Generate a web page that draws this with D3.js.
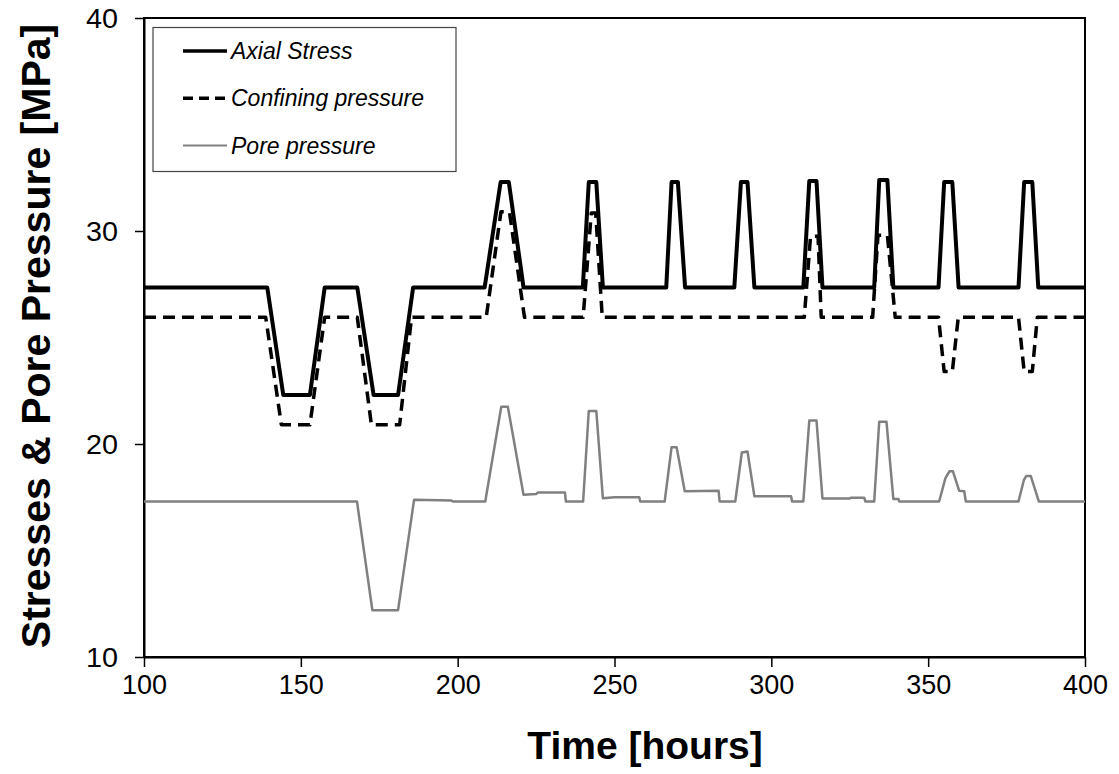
<!DOCTYPE html>
<html lang="en">
<head>
    <meta charset="UTF-8">
    <title>Stresses & Pore Pressure</title>
    <script src="https://d3js.org/d3.v7.min.js"></script>
    <style>
        body { margin: 0; background: #fff; }
        svg text { font-family: "Liberation Sans", Arial, sans-serif; fill: #000; }
    </style>
</head>
<body>
    <div id="chart"></div>
    <script>
        // Data: [hours, MPa] breakpoints of each record
        const axialStress = [
            [100, 27.35], [139.3, 27.35], [144.4, 22.3], [152.9, 22.3], [157.6, 27.35],
            [168.0, 27.35], [173.2, 22.3], [181.0, 22.3], [185.8, 27.35],
            [208.6, 27.35], [213.7, 32.3], [216.3, 32.3], [221.0, 27.35],
            [239.9, 27.35], [241.8, 32.3], [244.2, 32.3], [246.3, 27.35],
            [266.5, 27.35], [268.2, 32.3], [270.2, 32.3], [272.5, 27.35],
            [288.2, 27.35], [290.3, 32.3], [292.4, 32.3], [294.6, 27.35],
            [310.2, 27.35], [312.1, 32.35], [314.4, 32.35], [316.3, 27.35],
            [332.8, 27.35], [334.4, 32.4], [337.0, 32.4], [338.9, 27.35],
            [353.3, 27.35], [355.1, 32.3], [357.7, 32.3], [359.7, 27.35],
            [378.8, 27.35], [380.6, 32.3], [383.2, 32.3], [385.1, 27.35],
            [400, 27.35]
        ];
        const confiningPressure = [
            [100, 25.95], [138.8, 25.95], [143.8, 20.9], [152.9, 20.9], [157.6, 25.95],
            [168.0, 25.95], [172.5, 20.9], [181.5, 20.9], [185.3, 25.95],
            [209.1, 25.95], [213.8, 30.9], [216.5, 30.9], [221.3, 25.95],
            [240.0, 25.95], [242.6, 30.85], [244.0, 30.85], [246.1, 25.95],
            [310.5, 25.95], [312.5, 29.75], [314.9, 29.75], [315.9, 25.95],
            [332.3, 25.95], [334.0, 29.8], [337.0, 29.8], [339.5, 25.95],
            [353.3, 25.95], [355.1, 23.4], [357.7, 23.4], [359.6, 25.95],
            [378.8, 25.95], [380.6, 23.4], [383.2, 23.4], [384.8, 25.95],
            [400, 25.95]
        ];
        const porePressure = [
            [100, 17.3], [167.9, 17.3], [172.8, 12.2], [181.0, 12.2], [186.1, 17.38],
            [198.0, 17.35], [198.5, 17.3], [208.8, 17.3], [213.9, 21.75], [216.0, 21.75],
            [221.0, 17.62], [225.0, 17.65], [225.5, 17.72], [234.2, 17.72], [234.5, 17.3],
            [240.0, 17.3], [241.8, 21.55], [244.2, 21.55], [246.3, 17.45], [250.0, 17.5],
            [257.9, 17.5], [258.2, 17.3], [266.0, 17.3], [268.2, 19.85], [269.8, 19.85],
            [272.4, 17.78], [283.2, 17.8], [283.5, 17.3], [288.5, 17.3], [290.6, 19.6],
            [292.4, 19.65], [294.6, 17.55], [306.3, 17.55], [306.6, 17.3], [310.2, 17.3],
            [312.1, 21.1], [314.4, 21.1], [316.3, 17.44], [325.0, 17.44], [325.3, 17.48],
            [329.6, 17.48], [330.0, 17.3], [332.8, 17.3], [334.4, 21.05], [336.7, 21.05],
            [338.9, 17.42], [340.5, 17.42], [340.8, 17.3], [353.5, 17.3], [355.5, 18.4],
            [356.8, 18.72], [357.9, 18.72], [359.9, 17.8], [361.5, 17.78], [362.0, 17.3],
            [378.8, 17.3], [380.5, 18.3], [381.3, 18.5], [382.7, 18.5], [385.3, 17.3],
            [400, 17.3]
        ];
        const xTicks = [100, 150, 200, 250, 300, 350, 400];
        const yTicks = [10, 20, 30, 40];
        const seriesNames = ["Axial Stress", "Confining pressure", "Pore pressure"];

        const width = 1119;
        const height = 774;
        const margin = { top: 18, right: 34, bottom: 117, left: 144 };

        const svg = d3.select("#chart")
            .append("svg")
            .attr("width", width)
            .attr("height", height);

        const x = d3.scaleLinear()
            .domain([100, 400])
            .range([margin.left, width - margin.right]);

        const y = d3.scaleLinear()
            .domain([10, 40])
            .range([height - margin.bottom, margin.top]);

        // Frame
        svg.append("rect")
            .attr("x", x(100))
            .attr("y", y(40))
            .attr("width", x(400) - x(100))
            .attr("height", y(10) - y(40))
            .attr("fill", "none")
            .attr("stroke", "#000")
            .attr("stroke-width", 2);

        // Axes
        const xAxis = svg.append("g")
            .attr("transform", `translate(0,${y(10)})`)
            .call(d3.axisBottom(x).tickValues(xTicks).tickSize(10).tickPadding(8).tickSizeOuter(0));
        const yAxis = svg.append("g")
            .attr("transform", `translate(${x(100)},0)`)
            .call(d3.axisLeft(y).tickValues(yTicks).tickSize(9).tickPadding(17).tickSizeOuter(0));

        [xAxis, yAxis].forEach(g => {
            g.select(".domain").attr("stroke", "#000").attr("stroke-width", 2);
            g.selectAll(".tick line").attr("stroke", "#000").attr("stroke-width", 1.5);
            g.selectAll(".tick text")
                .style("font-family", '"Liberation Sans", Arial, sans-serif')
                .style("font-size", "27px")
                .attr("fill", "#000");
        });
        yAxis.selectAll(".tick text").attr("dy", "0.35em").attr("textLength", 32).attr("lengthAdjust", "spacingAndGlyphs");

        // Lines
        const line = d3.line()
            .x(d => x(d[0]))
            .y(d => y(d[1]));

        svg.append("path")
            .datum(porePressure)
            .attr("d", line)
            .attr("fill", "none")
            .attr("stroke", "#808080")
            .attr("stroke-width", 2.5)
            .attr("stroke-linejoin", "round");

        svg.append("path")
            .datum(confiningPressure)
            .attr("d", line)
            .attr("fill", "none")
            .attr("stroke", "#000")
            .attr("stroke-width", 3.5)
            .attr("stroke-dasharray", "12,7")
            .attr("stroke-linejoin", "round");

        svg.append("path")
            .datum(axialStress)
            .attr("d", line)
            .attr("fill", "none")
            .attr("stroke", "#000")
            .attr("stroke-width", 4)
            .attr("stroke-linejoin", "round");

        // Legend
        const legend = svg.append("g");
        legend.append("rect")
            .attr("x", 153)
            .attr("y", 27.5)
            .attr("width", 303)
            .attr("height", 144)
            .attr("fill", "#fff")
            .attr("stroke", "#444")
            .attr("stroke-width", 1.2);

        const legendStyles = [
            { stroke: "#000", width: 3.5, dash: null },
            { stroke: "#000", width: 3.5, dash: "10,6" },
            { stroke: "#808080", width: 2, dash: null }
        ];
        seriesNames.forEach((name, i) => {
            const ly = 51 + i * 47.3;
            legend.append("line")
                .attr("x1", 183).attr("x2", 227)
                .attr("y1", ly).attr("y2", ly)
                .attr("stroke", legendStyles[i].stroke)
                .attr("stroke-width", legendStyles[i].width)
                .attr("stroke-dasharray", legendStyles[i].dash);
            legend.append("text")
                .attr("x", 231)
                .attr("y", ly)
                .attr("dy", "0.35em")
                .style("font-size", "23px")
                .style("font-style", "italic")
                .text(name);
        });

        // Axis titles
        svg.append("text")
            .attr("x", 645)
            .attr("y", 759)
            .attr("text-anchor", "middle")
            .style("font-size", "39px")
            .style("font-weight", "bold")
            .text("Time [hours]");

        svg.append("text")
            .attr("transform", `translate(50,336) rotate(-90)`)
            .attr("text-anchor", "middle")
            .style("font-size", "41px")
            .style("font-weight", "bold")
            .text("Stresses & Pore Pressure [MPa]");
    </script>
</body>
</html>
